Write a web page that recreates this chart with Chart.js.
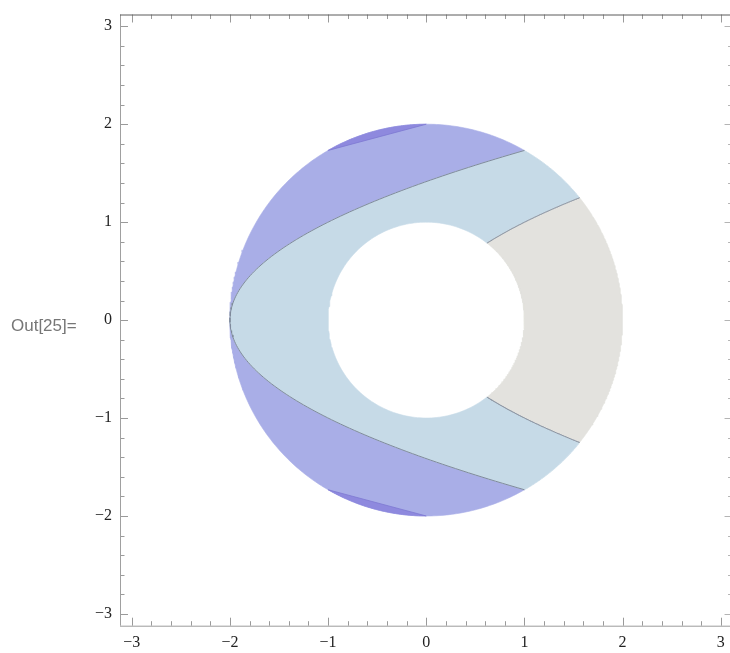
<!DOCTYPE html>
<html>
<head>
<meta charset="utf-8">
<script src="https://cdn.jsdelivr.net/npm/chart.js@4/dist/chart.umd.min.js"></script>
<style>
  html, body { margin: 0; padding: 0; background: #fff; overflow: hidden; }
  #wrap { position: relative; width: 730px; height: 653px; }
  #plot { position: absolute; left: 0; top: 0; }
  #out {
    position: absolute; left: 11px; top: 316px;
    font: 17px "Liberation Sans", Arial, sans-serif; color: #767676;
    white-space: nowrap;
  }
</style>
</head>
<body>
<div id="wrap">
  <canvas id="plot" width="730" height="653"></canvas>
  <div id="out">Out[25]=</div>
</div>
<script>
// Plot window: the frame spans ±3.12 on both axes; the canvas cuts the right side at x ≈ 3.094
const xRange = [-3.12, 3.094];
const yRange = [-3.12, 3.12];
const frameRight = 3.12;
const majorTicks = [-3, -2, -1, 0, 1, 2, 3];
const minorTicks = [-2.8, -2.6, -2.4, -2.2, -1.8, -1.6, -1.4, -1.2, -0.8, -0.6, -0.4, -0.2,
                    0.2, 0.4, 0.6, 0.8, 1.2, 1.4, 1.6, 1.8, 2.2, 2.4, 2.6, 2.8];

// Annulus 1 <= r <= 2, cut by the parabolas x = y^2 + c
const ringRadii = [1, 2];            // inner, outer
const parabolaShifts = [-2, 0];      // left cut, right cut
// chord that closes the darker overlap strip near the top and bottom of the ring
const chordEnds = [[-1, 1.7320508], [0, 2]];

const fillColors = {
  outerBand: '#a9aee7',
  middleBand: '#c6dae7',
  rightBand: '#e3e2de',
  overlap: '#8e89de'
};
const edgeColor = '#7f8a9b';

const N = 160;
const [rIn, rOut] = ringRadii;
const [cLeft, cRight] = parabolaShifts;

function arc(r, a0, a1) {
  const pts = [];
  for (let i = 0; i <= N; i++) {
    const a = a0 + (a1 - a0) * i / N;
    pts.push({ x: r * Math.cos(a), y: r * Math.sin(a) });
  }
  return pts;
}
function parabola(c, y0, y1) {
  const pts = [];
  for (let i = 0; i <= N; i++) {
    const y = y0 + (y1 - y0) * i / N;
    pts.push({ x: y * y + c, y: y });
  }
  return pts;
}
// where x = y^2 + c meets the circle of radius r (upper half)
function meet(c, r) {
  const x = (-1 + Math.sqrt(1 + 4 * (c + r * r))) / 2;
  return { x: x, y: Math.sqrt(x - c) };
}

const pOutR = meet(cRight, rOut);   // right cut on outer circle
const pInR = meet(cRight, rIn);     // right cut on inner circle
const pOutL = meet(cLeft, rOut);    // left cut on outer circle
const aOutR = Math.atan2(pOutR.y, pOutR.x);
const aInR = Math.atan2(pInR.y, pInR.x);
const aOutL = Math.atan2(pOutL.y, pOutL.x);

const rightBand = [
  ...arc(rOut, -aOutR, aOutR),
  ...parabola(cRight, pOutR.y, pInR.y),
  ...arc(rIn, aInR, -aInR),
  ...parabola(cRight, -pInR.y, -pOutR.y)
];
const middleBand = [
  ...arc(rOut, aOutR, aOutL),
  ...parabola(cLeft, pOutL.y, -pOutL.y),
  ...arc(rOut, -aOutL, -aOutR),
  ...parabola(cRight, -pOutR.y, -pInR.y),
  ...arc(rIn, 2 * Math.PI - aInR, aInR),
  ...parabola(cRight, pInR.y, pOutR.y)
];
const outerTop = [
  ...arc(rOut, aOutL, Math.PI),
  ...parabola(cLeft, 0, pOutL.y)
];
const outerBottom = [
  ...arc(rOut, Math.PI, 2 * Math.PI - aOutL),
  ...parabola(cLeft, -pOutL.y, 0)
];
const cA = Math.atan2(chordEnds[1][1], chordEnds[1][0]);
const cB = Math.atan2(chordEnds[0][1], chordEnds[0][0]);
const overlapTop = arc(rOut, cA, cB);
const overlapBottom = arc(rOut, -cB, -cA);

const leftEdge = parabola(cLeft, pOutL.y, -pOutL.y);
const rightEdgeTop = parabola(cRight, pInR.y, pOutR.y);
const rightEdgeBottom = parabola(cRight, -pInR.y, -pOutR.y);
const chordTop = [{ x: chordEnds[0][0], y: chordEnds[0][1] }, { x: chordEnds[1][0], y: chordEnds[1][1] }];
const chordBottom = chordTop.map(p => ({ x: p.x, y: -p.y }));

function region(data, color, order) {
  return {
    data, showLine: true, fill: 'shape', backgroundColor: color,
    borderColor: color, borderWidth: 0.6, pointRadius: 0, tension: 0, order
  };
}
function edge(data, color, width, order) {
  return {
    data, showLine: true, fill: false, borderColor: color,
    borderWidth: width, pointRadius: 0, tension: 0, order
  };
}

const datasets = [
  region(rightBand, fillColors.rightBand, 10),
  region(middleBand, fillColors.middleBand, 10),
  region(outerTop, fillColors.outerBand, 10),
  region(outerBottom, fillColors.outerBand, 10),
  region(overlapTop, fillColors.overlap, 8),
  region(overlapBottom, fillColors.overlap, 8),
  edge(chordTop, '#7d78d2', 0.8, 6),
  edge(chordBottom, '#7d78d2', 0.8, 6),
  edge(leftEdge, edgeColor, 1, 5),
  edge(rightEdgeTop, edgeColor, 1, 5),
  edge(rightEdgeBottom, edgeColor, 1, 5)
];

const tickFont = { family: '"Liberation Serif", "Times New Roman", serif', size: 16 };
const fmt = v => (v < 0 ? '\u2212' + Math.abs(v) : String(v));

// Mathematica-style frame with inward ticks; only the right-hand ticks show at the canvas edge
const framePlugin = {
  id: 'frame',
  afterDraw(chart) {
    const { ctx, chartArea: a, scales } = chart;
    const sx = scales.x, sy = scales.y;
    const xr = sx.getPixelForValue(frameRight);
    ctx.save();
    ctx.lineWidth = 1;
    const line = (x1, y1, x2, y2, c) => {
      ctx.strokeStyle = c;
      ctx.beginPath(); ctx.moveTo(x1, y1); ctx.lineTo(x2, y2); ctx.stroke();
    };
    const tickCol = '#9a9a9a';
    const marks = [...majorTicks.map(v => [v, 8]), ...minorTicks.map(v => [v, 4.5])];
    for (const [v, len] of marks) {
      const px = Math.round(sx.getPixelForValue(v)) + 0.5;
      const py = Math.round(sy.getPixelForValue(v)) + 0.5;
      line(px, a.bottom, px, a.bottom - len, tickCol);
      line(px, a.top, px, a.top + len, tickCol);
      line(a.left, py, a.left + len, py, tickCol);
      line(xr, py, xr - len, py, '#b4b4b4');
    }
    line(a.left, a.bottom + 0.5, xr, a.bottom + 0.5, '#9c9c9c');
    line(a.left + 0.5, a.top, a.left + 0.5, a.bottom, '#a0a0a0');
    line(a.left, a.top + 0.5, xr, a.top + 0.5, '#5a5a5a');
    ctx.restore();
  }
};

new Chart(document.getElementById('plot'), {
  type: 'scatter',
  data: { datasets },
  options: {
    responsive: false,
    animation: false,
    layout: { padding: { top: 14.5, right: 0, left: 0, bottom: 0 } },
    plugins: { legend: { display: false }, tooltip: { enabled: false } },
    scales: {
      x: {
        type: 'linear', min: xRange[0], max: xRange[1],
        afterBuildTicks: s => { s.ticks = majorTicks.map(v => ({ value: v })); },
        afterFit: s => { s.height = 27.3; s.paddingLeft = 0; s.paddingRight = 0; },
        grid: { display: false, drawTicks: false, tickLength: 0 },
        border: { display: false },
        ticks: { padding: 7, font: tickFont, color: '#222', callback: fmt, maxRotation: 0, autoSkip: false }
      },
      y: {
        type: 'linear', min: yRange[0], max: yRange[1],
        afterBuildTicks: s => { s.ticks = majorTicks.map(v => ({ value: v })); },
        afterFit: s => { s.width = 120; s.paddingTop = 0; s.paddingBottom = 0; },
        grid: { display: false, drawTicks: false, tickLength: 0 },
        border: { display: false },
        ticks: { padding: 8, font: tickFont, color: '#222', callback: fmt, autoSkip: false }
      }
    }
  },
  plugins: [framePlugin]
});
</script>
</body>
</html>
